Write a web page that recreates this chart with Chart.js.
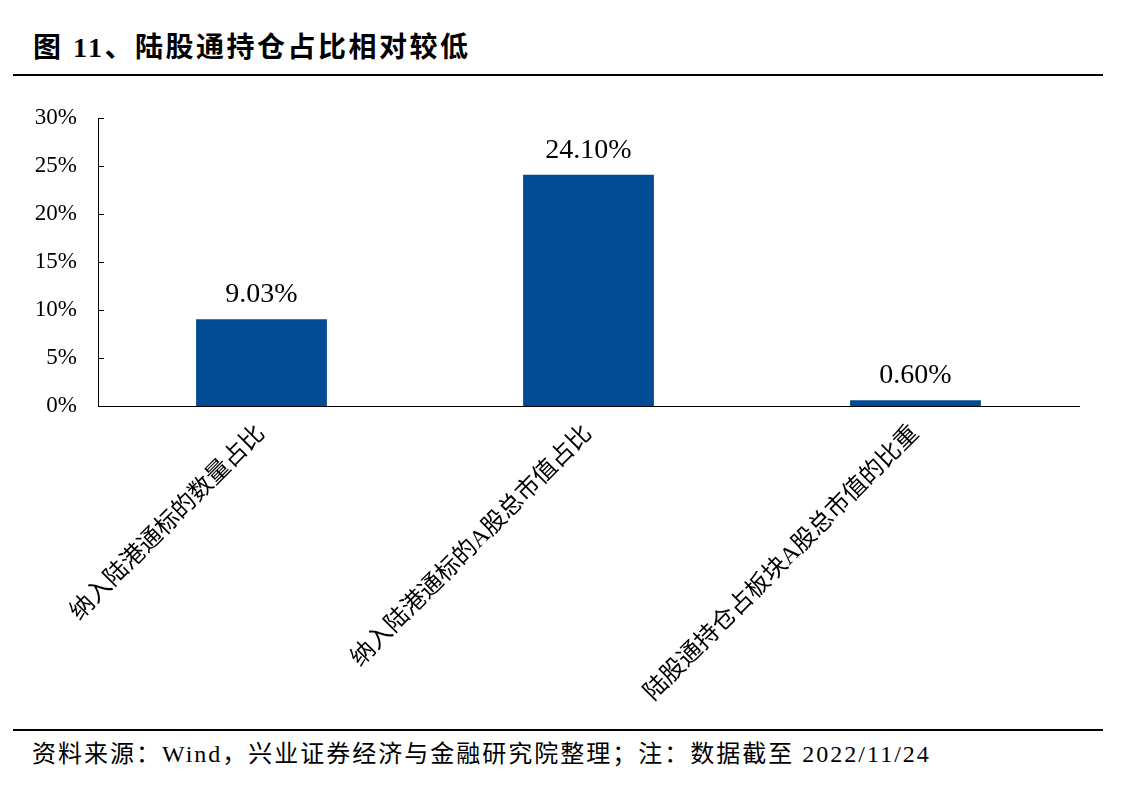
<!DOCTYPE html>
<html>
<head>
<meta charset="utf-8">
<script src="https://cdn.jsdelivr.net/npm/chart.js@4"></script>
<style>
  body { margin: 0; background: #fff; width: 1121px; height: 791px; position: relative; overflow: hidden; }
  .title { position: absolute; left: 33px; top: 25px; font: bold 28px "Liberation Serif", "Noto Sans CJK SC"; letter-spacing: 2.5px; color: #000; }
  .rule { position: absolute; left: 13px; width: 1090px; height: 2px; background: #000; }
  .source { position: absolute; left: 32px; top: 734px; font: 24px "Liberation Serif", "Noto Sans CJK SC"; letter-spacing: 2px; color: #000; white-space: nowrap; }
  #wrap { position: absolute; left: 0; top: 80px; width: 1121px; height: 645px; }
</style>
</head>
<body>
<div class="title">图 11、陆股通持仓占比相对较低</div>
<div class="rule" style="top:74px"></div>
<div id="wrap"><canvas id="chart"></canvas></div>
<div class="rule" style="top:729px"></div>
<div class="source">资料来源：Wind，兴业证券经济与金融研究院整理；注：数据截至 2022/11/24</div>

<script>
// data
var categories = ["纳入陆港通标的数量占比", "纳入陆港通标的A股总市值占比", "陆股通持仓占板块A股总市值的比重"];
var shares = [9.03, 24.10, 0.60];
var yTicks = [0, 5, 10, 15, 20, 25, 30];

var serif = '"Liberation Serif", "Noto Sans CJK SC"';

// inward tick marks on y axis + value labels above bars
var extras = {
    id: "extras",
    afterDraw(chart) {
        var ctx = chart.ctx;
        var y = chart.scales.y;
        ctx.save();
        ctx.strokeStyle = "#000";
        ctx.lineWidth = 1;
        yTicks.forEach((t) => {
            var py = Math.round(y.getPixelForValue(t)) + 0.5;
            ctx.beginPath();
            ctx.moveTo(y.right, py);
            ctx.lineTo(y.right + 6, py);
            ctx.stroke();
        });
        ctx.fillStyle = "#000";
        ctx.font = "28px " + serif;
        ctx.textAlign = "center";
        ctx.textBaseline = "alphabetic";
        chart.getDatasetMeta(0).data.forEach((bar, i) => {
            ctx.fillText(shares[i].toFixed(2) + "%", bar.x, bar.y - 17);
        });
        ctx.restore();
    }
};

new Chart(document.getElementById("chart"), {
    type: "bar",
    data: {
        labels: categories,
        datasets: [{
            data: shares,
            backgroundColor: "#004b93",
            barPercentage: 0.4,
            categoryPercentage: 1
        }]
    },
    options: {
        responsive: true,
        maintainAspectRatio: false,
        animation: false,
        layout: { padding: { top: 38, right: 42, left: 0, bottom: 0 } },
        plugins: { legend: { display: false }, tooltip: { enabled: false } },
        scales: {
            x: {
                grid: { display: false, drawTicks: false },
                border: { display: true, color: "#000", width: 1 },
                ticks: {
                    color: "#000",
                    font: { family: serif, size: 24 },
                    minRotation: 45,
                    maxRotation: 45,
                    padding: 14,
                    autoSkip: false
                },
                afterFit(s) { s.height = 319; }
            },
            y: {
                min: 0,
                max: 30,
                grid: { display: false, drawTicks: false },
                border: { display: true, color: "#000", width: 1 },
                ticks: {
                    stepSize: 5,
                    color: "#000",
                    font: { family: serif, size: 23 },
                    padding: 21,
                    callback: (v) => v + "%"
                },
                afterFit(s) { s.width = 98; }
            }
        }
    },
    plugins: [extras]
});
</script>
</body>
</html>
